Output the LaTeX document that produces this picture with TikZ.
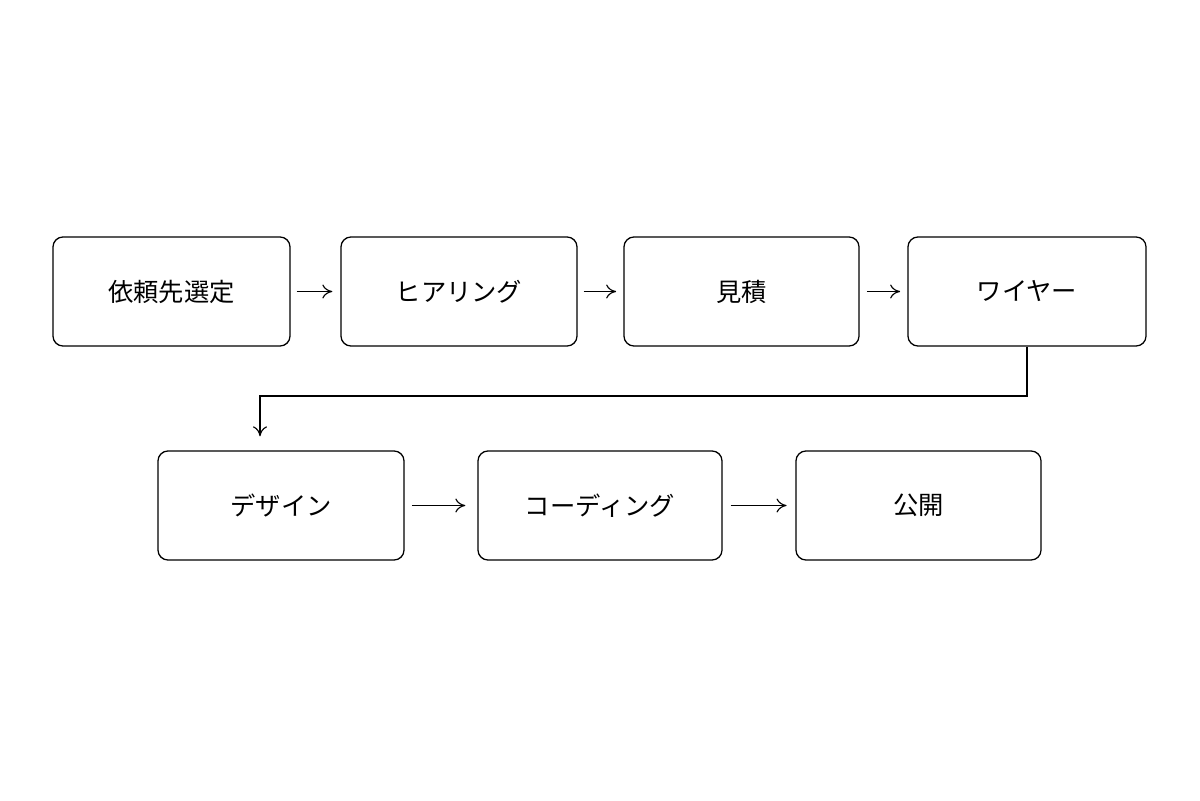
\documentclass[tikz,border=0pt]{standalone}
\usepackage{fontspec}
\setmainfont{Noto Sans CJK JP}
\usetikzlibrary{arrows.meta}
\tikzstyle{stage} = [draw, rounded corners=0.25cm, line width=0.9pt, minimum height=2.725cm, font=\fontsize{18}{20}\selectfont, inner sep=0pt]
\tikzstyle{flow} = [line width=0.8pt, -{To[length=2.5mm,width=3.5mm]}]

\begin{document}
\begin{tikzpicture}[x=0.025cm, y=-0.025cm]
  \useasboundingbox (0,0) rectangle (1200,800);
  % first row
  \node[stage, minimum width=5.925cm] (s1) at (171.5,291.5) {依頼先選定};
  \node[stage, minimum width=5.9cm] (s2) at (459,291.5) {ヒアリング};
  \node[stage, minimum width=5.875cm] (s3) at (741.5,291.5) {見積};
  \node[stage, minimum width=5.95cm] (s4) at (1027,291.5) {ワイヤー};
  % second row
  \node[stage, minimum width=6.15cm] (s5) at (281,505.5) {デザイン};
  \node[stage, minimum width=6.1cm] (s6) at (600,505.5) {コーディング};
  \node[stage, minimum width=6.125cm] (s7) at (918.5,505.5) {公開};
  \draw[flow] ([xshift=0.15cm]s1.east) -- ([xshift=-0.2cm]s2.west);
  \draw[flow] ([xshift=0.15cm]s2.east) -- ([xshift=-0.18cm]s3.west);
  \draw[flow] ([xshift=0.18cm]s3.east) -- ([xshift=-0.18cm]s4.west);
  \coordinate (turn) at (260,396);
  \draw[flow] (s4.south) |- (turn) -- ([yshift=0.35cm]turn |- s5.north);
  \draw[flow] ([xshift=0.18cm]s5.east) -- ([xshift=-0.3cm]s6.west);
  \draw[flow] ([xshift=0.2cm]s6.east) -- ([xshift=-0.22cm]s7.west);
\end{tikzpicture}
\end{document}
